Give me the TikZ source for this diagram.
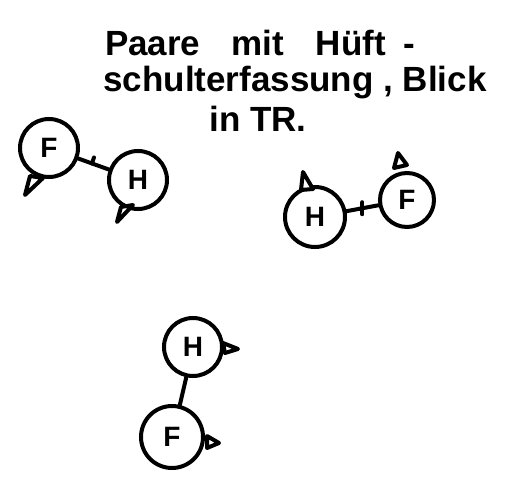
\documentclass[tikz,border=0pt]{standalone}
\usepackage{fontspec}
\setmainfont{Liberation Sans}
\begin{document}
\begin{tikzpicture}[x=1pt,y=-1pt,
  ink/.style={line width=4pt,line cap=round,line join=round},
  person/.style={circle,draw,line width=4pt,minimum size=#1,inner sep=0pt,font=\bfseries\fontsize{28}{28}\selectfont},
  nose/.style={ink,fill=white},
  title/.style={font=\bfseries\fontsize{35}{35}\selectfont}]
\useasboundingbox (0,0) rectangle (506,492);
% title
\node[title] (t1) at (260,43) {Paare\hspace{0.9em}mit\hspace{0.9em}Hüft\hspace{0.5em}-};
\node[title] (t2) at (295,83) {schulterfassung , Blick};
\node[title] (t3) at (258,119) {in TR.};
% pair 1
\node[person=58pt] (f1) at (49,148) {F};
\node[person=58pt] (h1) at (138,180) {H};
\draw[nose] (25,195) -- (30,176) -- (43,178) -- cycle;
\draw[nose] (117,222) -- (121,207) -- (133,205) -- cycle;
\draw[ink] (f1) -- (h1) coordinate[pos=0.45] (k1);
\draw[ink] (k1) -- ++(2,-6);
% pair 2
\node[person=60pt] (h2) at (315,217) {H};
\node[person=54pt] (f2) at (407,200) {F};
\draw[nose] (303,172) -- (301,190) -- (313,189) -- cycle;
\draw[nose] (398,153) -- (394,168) -- (407,165) -- cycle;
\draw[ink] (h2) -- (f2) coordinate[pos=0.5] (k2);
\draw[ink] (k2) ++(0,-6) -- ++(0,12);
% pair 3
\node[person=58pt] (h3) at (193,347) {H};
\node[person=62pt] (f3) at (172,437) {F};
\draw[nose] (223,343) -- (238,349) -- (225,353) -- cycle;
\draw[nose] (207,436) -- (219,443) -- (207,448) -- cycle;
\draw[ink] (h3) .. controls (183,392) .. (f3);
\end{tikzpicture}
\end{document}
